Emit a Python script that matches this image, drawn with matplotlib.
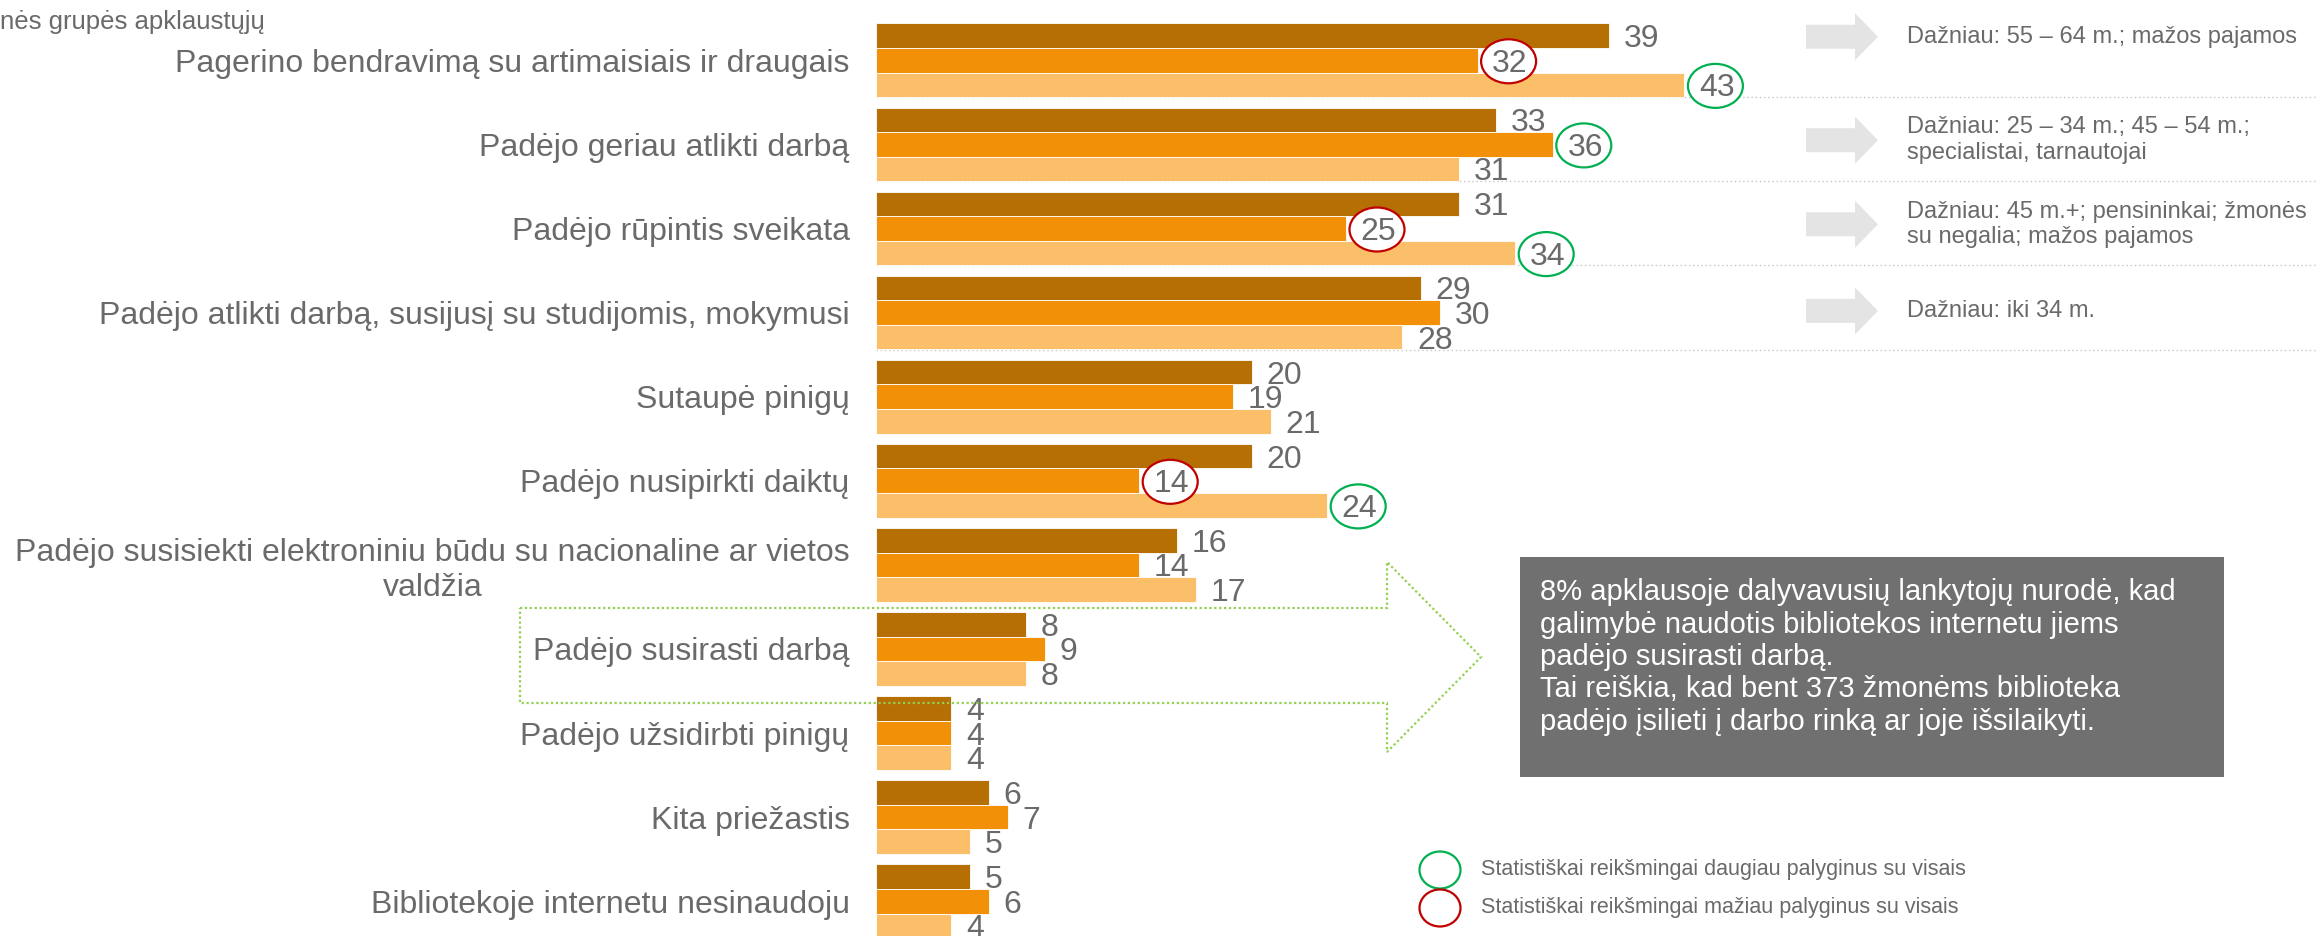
import matplotlib
matplotlib.use("Agg")
import matplotlib.pyplot as plt
from matplotlib.patches import Ellipse, Polygon, Rectangle

plt.rcParams['font.family'] = ['Liberation Sans', 'DejaVu Sans']

# duomenys
kategorijos = [
    "Pagerino bendravimą su artimaisiais ir draugais",
    "Padėjo geriau atlikti darbą",
    "Padėjo rūpintis sveikata",
    "Padėjo atlikti darbą, susijusį su studijomis, mokymusi",
    "Sutaupė pinigų",
    "Padėjo nusipirkti daiktų",
    "Padėjo susisiekti elektroniniu būdu su nacionaline ar vietos\nvaldžia",
    "Padėjo susirasti darbą",
    "Padėjo užsidirbti pinigų",
    "Kita priežastis",
    "Bibliotekoje internetu nesinaudoju",
]
serija_1 = [39, 33, 31, 29, 20, 20, 16, 8, 4, 6, 5]
serija_2 = [32, 36, 25, 30, 19, 14, 14, 9, 4, 7, 6]
serija_3 = [43, 31, 34, 28, 21, 24, 17, 8, 4, 5, 4]

# (eilutė, serija) - reikšmingai daugiau / mažiau
daugiau = [(0, 2), (1, 1), (2, 2), (5, 2)]
maziau = [(0, 1), (2, 1), (5, 1)]

pastabos = [
    "Dažniau: 55 – 64 m.; mažos pajamos",
    "Dažniau: 25 – 34 m.; 45 – 54 m.;\nspecialistai, tarnautojai",
    "Dažniau: 45 m.+; pensininkai; žmonės\nsu negalia; mažos pajamos",
    "Dažniau: iki 34 m.",
]
pastabu_poslinkis = [-0.28, -0.05, -0.05, -0.02]

antraste = "nės grupės apklaustųjų"
legendos_tekstai = [
    "Statistiškai reikšmingai daugiau palyginus su visais",
    "Statistiškai reikšmingai mažiau palyginus su visais",
]
dezutes_tekstas = ("8% apklausoje dalyvavusių lankytojų nurodė, kad\n"
                   "galimybė naudotis bibliotekos internetu jiems\n"
                   "padėjo susirasti darbą.\n"
                   "Tai reiškia, kad bent 373 žmonėms biblioteka\n"
                   "padėjo įsilieti į darbo rinką ar joje išsilaikyti.")

spalvos = ['#B56F05', '#F29108', '#FBBF69']
zalia = '#00B050'
raudona = '#C00000'
pilka = '#6a6a6a'

W, H = 2318, 936
PPU = 18.8        # px per vienetą
PITCH = 84.1      # px tarp grupių
Y0 = 60.3         # pirmos grupės centras, px
x0_px = 876

def fx(x):
    return x / W

def fy(y):
    return 1 - y / H

fig = plt.figure(figsize=(W / 100, H / 100), dpi=100)
ax = fig.add_axes([fx(x0_px), 0, 1 - fx(x0_px), 1])
xmax = (W - x0_px) / PPU
ax.set_xlim(0, xmax)
ax.set_ylim((H - Y0) / PITCH, -Y0 / PITCH)

bh = 24.6 / PITCH
serijos = [serija_1, serija_2, serija_3]
n = len(kategorijos)
for s, (vals, c) in enumerate(zip(serijos, spalvos)):
    ys = [i + (s - 1) * bh for i in range(n)]
    ax.barh(ys, vals, height=bh, color=c, edgecolor='white', linewidth=0.6, zorder=2)
    for y, v in zip(ys, vals):
        ax.annotate(str(v), xy=(v, y), xytext=(10.5, -2.5), textcoords='offset points',
                    ha='left', va='center', fontsize=23, color=pilka, zorder=5)

# apskritimai aplink reikšmes
for poros, col in [(daugiau, zalia), (maziau, raudona)]:
    for i, s in poros:
        v = serijos[s][i]
        y = i + (s - 1) * bh
        ax.add_patch(Ellipse((v + 31 / PPU, y + 1 / PITCH), 55 / PPU, 44 / PITCH,
                             facecolor='white', edgecolor=col, linewidth=1.6, zorder=4))

# taškinės skiriamosios linijos
for i in range(len(pastabos)):
    ax.plot([0, xmax], [i + 37 / PITCH] * 2, color='#c8c8c8', linewidth=1,
            linestyle=(0, (1, 2)), zorder=1)

# pilkos rodyklės ir pastabos
ax_x = (1806 - x0_px) / PPU
ax_tip = (1878 - x0_px) / PPU
for i, (txt, dy) in enumerate(zip(pastabos, pastabu_poslinkis)):
    yc = i + dy
    ax.arrow(ax_x, yc, ax_tip - ax_x, 0, width=24 / PITCH, head_width=47 / PITCH,
             head_length=23 / PPU, length_includes_head=True, fc='#e4e4e4', ec='none', zorder=2)
    ax.text((1907 - x0_px) / PPU, yc, txt, ha='left', va='center', fontsize=17,
            color=pilka, linespacing=1.2)

ax.set_yticks(range(n))
ax.set_yticklabels(kategorijos, fontsize=23, color=pilka)
ax.tick_params(axis='y', length=0, pad=19)
ax.get_yticklabels()[6].set_multialignment('center')
ax.set_xticks([])
for sp in ax.spines.values():
    sp.set_visible(False)
ax.patch.set_visible(False)

fig.text(0, fy(22), antraste, ha='left', va='center', fontsize=18.5, color=pilka)

# žalia taškinė rodyklė
rodykle = [(520, 608), (1387, 608), (1387, 562), (1481, 657), (1387, 752), (1387, 703), (520, 703)]
fig.add_artist(Polygon([(fx(x), fy(y)) for x, y in rodykle], closed=True, fill=False,
                       edgecolor='#92D050', linewidth=1.6, linestyle=(0, (1, 1.2)),
                       transform=fig.transFigure, zorder=3))

# pilka dėžutė
fig.add_artist(Rectangle((fx(1520), fy(777)), fx(2224) - fx(1520), fy(557) - fy(777),
                         facecolor='#707070', edgecolor='none', transform=fig.transFigure, zorder=3))
fig.text(fx(1540), fy(657), dezutes_tekstas, ha='left', va='center', fontsize=21,
         color='white', linespacing=1.2, zorder=4)

# legenda
for k, (txt, col) in enumerate(zip(legendos_tekstai, [zalia, raudona])):
    yy = 870 + k * 38
    fig.add_artist(Ellipse((fx(1440), fy(yy)), 41 / W, 37 / H, facecolor='white',
                           edgecolor=col, linewidth=1.6, transform=fig.transFigure, zorder=3))
    fig.text(fx(1481), fy(yy), txt, ha='left', va='center', fontsize=15.5, color=pilka)

fig.savefig("out.png", dpi=100)
